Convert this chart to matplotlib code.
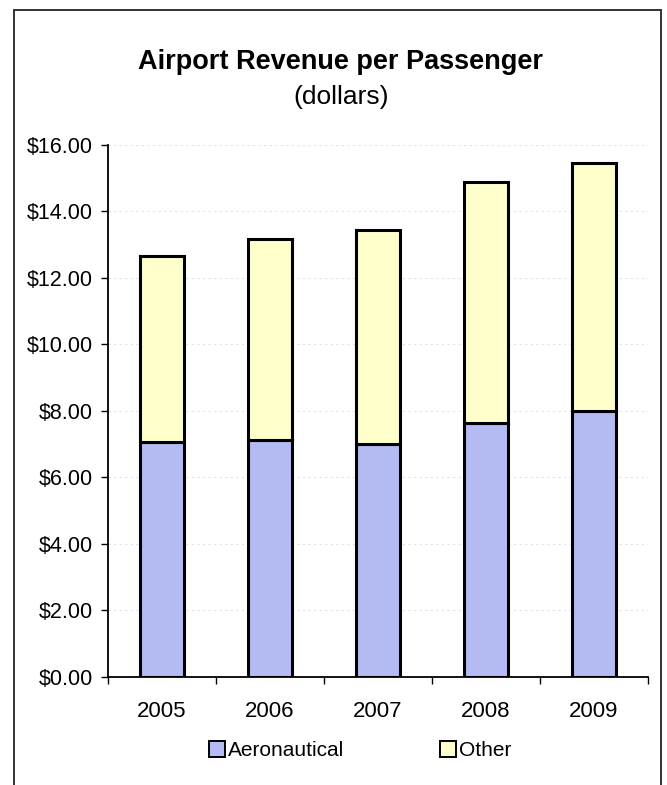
import matplotlib.pyplot as plt
import matplotlib.patches as mpatches
from matplotlib.ticker import FuncFormatter, FixedLocator

years = ['2005', '2006', '2007', '2008', '2009']
aeronautical = [7.08, 7.13, 7.01, 7.63, 8.01]
other = [5.58, 6.04, 6.43, 7.25, 7.44]

AERO_COLOR = '#B3BBF2'
OTHER_COLOR = '#FFFFCC'

plt.rcParams['font.family'] = ['Liberation Sans', 'DejaVu Sans']

fig = plt.figure(figsize=(6.67, 7.85), dpi=100, facecolor='white')
ax = fig.add_axes([0.162, 0.1376, 0.8095, 0.6777])

x = range(len(years))
ax.bar(x, aeronautical, width=0.41, color=AERO_COLOR, edgecolor='black',
       linewidth=2.2, label='Aeronautical', zorder=3)
ax.bar(x, other, width=0.41, bottom=aeronautical, color=OTHER_COLOR,
       edgecolor='black', linewidth=2.2, label='Other', zorder=3)

ax.set_xlim(-0.5, len(years) - 0.5)
ax.set_ylim(0, 16)
ax.set_yticks(range(0, 17, 2))
ax.yaxis.set_major_formatter(FuncFormatter(lambda v, p: f'${v:.2f}'))
ax.tick_params(axis='y', direction='out', length=5, width=1, labelsize=15.5, pad=6)

# category labels centred, tick marks between categories
ax.set_xticks(list(x))
ax.set_xticklabels(years)
ax.xaxis.set_minor_locator(FixedLocator([i - 0.5 for i in range(len(years) + 1)]))
ax.tick_params(axis='x', which='major', length=0, labelsize=16, pad=17)
ax.tick_params(axis='x', which='minor', direction='out', length=5, width=1)

ax.grid(axis='y', color='#e2e2e2', linestyle=(0, (2, 3)), linewidth=0.8, zorder=0)
for s in ['top', 'right']:
    ax.spines[s].set_visible(False)
for s in ['left', 'bottom']:
    ax.spines[s].set_linewidth(1.3)

fig.text(0.511, 0.921, 'Airport Revenue per Passenger', ha='center', va='center',
         fontsize=19.5, fontweight='bold')
fig.text(0.511, 0.876, '(dollars)', ha='center', va='center', fontsize=19)

handles = [
    mpatches.Patch(facecolor=AERO_COLOR, edgecolor='black', linewidth=1.4, label='Aeronautical'),
    mpatches.Patch(facecolor=OTHER_COLOR, edgecolor='black', linewidth=1.4, label='Other'),
]
fig.legend(handles=handles, loc='center', bbox_to_anchor=(0.54, 0.044), ncol=2,
           frameon=False, fontsize=15, handlelength=0.75, handleheight=0.85,
           handletextpad=0.15, columnspacing=4.6)

# outer border of the chart area
fig.patches.append(mpatches.Rectangle((14 / 667, -0.05), 647 / 667, 1.05 - 10 / 785,
                                      transform=fig.transFigure, fill=False,
                                      edgecolor='#333333', linewidth=1.4))

fig.savefig('out.png', dpi=100, facecolor='white')
